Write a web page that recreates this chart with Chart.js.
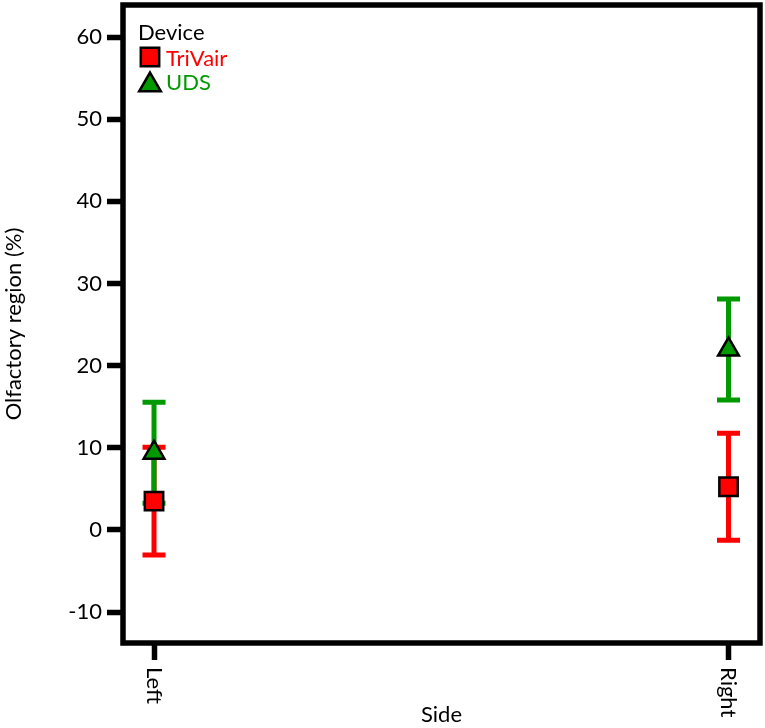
<!DOCTYPE html>
<html>
<head>
<meta charset="utf-8">
<script src="https://cdn.jsdelivr.net/npm/chart.js@4/dist/chart.umd.min.js"></script>
<style>
  html, body { margin: 0; padding: 0; background: #ffffff; }
  #wrap { width: 765px; height: 728px; position: relative; }
</style>
</head>
<body>
<div id="wrap"><canvas id="c"></canvas></div>
<script>
// ---- Data ----
const categories = ['Left', 'Right'];
const seriesNames = ['TriVair', 'UDS'];
const triVairMean = [3.5, 5.25];
const triVairErr = [6.55, 6.5];
const udsMean = [9.4, 21.95];
const udsErr = [6.15, 6.15];
const yTicks = [-10, 0, 10, 20, 30, 40, 50, 60];
const legendTitle = 'Device';
const xTitle = 'Side';
const yTitle = 'Olfactory region (%)';

const RED = '#ff0000';
const GREEN = '#009a00';
const FONT = 'Lato, "Noto Sans", sans-serif';
const FS = 22;

const errData = [triVairErr, udsErr];
const errColors = [RED, GREEN];

const errorBarPlugin = {
  id: 'errorBars',
  beforeDatasetsDraw(chart) {
    const ctx = chart.ctx;
    const xs = chart.scales.x, ys = chart.scales.y;
    ctx.save();
    chart.data.datasets.forEach((ds, di) => {
      ctx.strokeStyle = errColors[di];
      ctx.lineWidth = 5;
      ctx.lineCap = 'butt';
      ds.data.forEach((p, i) => {
        const x = xs.getPixelForValue(p.x);
        const yT = ys.getPixelForValue(p.y + errData[di][i]);
        const yB = ys.getPixelForValue(p.y - errData[di][i]);
        ctx.beginPath();
        ctx.moveTo(x, yT); ctx.lineTo(x, yB);
        ctx.moveTo(x - 11.5, yT); ctx.lineTo(x + 11.5, yT);
        ctx.moveTo(x - 11.5, yB); ctx.lineTo(x + 11.5, yB);
        ctx.stroke();
      });
    });
    ctx.restore();
  }
};

const framePlugin = {
  id: 'frame',
  afterDraw(chart) {
    const ctx = chart.ctx;
    const a = chart.chartArea;
    const xs = chart.scales.x;
    ctx.save();
    // frame
    ctx.strokeStyle = '#000';
    ctx.lineWidth = 5.5;
    ctx.lineJoin = 'miter';
    ctx.strokeRect(a.left, a.top, a.right - a.left, a.bottom - a.top);
    // x tick labels rotated clockwise
    ctx.fillStyle = '#000';
    ctx.font = FS + 'px ' + FONT;
    ctx.textAlign = 'left';
    ctx.textBaseline = 'middle';
    categories.forEach((c, i) => {
      const x = xs.getPixelForValue(i);
      ctx.save();
      ctx.translate(x, a.bottom + 24);
      ctx.rotate(Math.PI / 2);
      ctx.fillText(c, 0, 0);
      ctx.restore();
    });
    // legend
    ctx.textBaseline = 'alphabetic';
    ctx.fillStyle = '#000';
    ctx.fillText(legendTitle, 138, 39.5);
    const styles = ['rect', 'triangle'];
    const radii = [13, 12.5];
    const cys = [57, 85];
    const tys = [65.5, 90];
    seriesNames.forEach((n, i) => {
      ctx.fillStyle = errColors[i];
      ctx.strokeStyle = '#000';
      ctx.lineWidth = 2.5;
      Chart.helpers.drawPoint(ctx, { pointStyle: styles[i], radius: radii[i], rotation: 0, borderWidth: 2.5 }, 150, cys[i]);
      ctx.fillStyle = errColors[i];
      ctx.fillText(n, 166, tys[i]);
    });
    ctx.restore();
  }
};

const datasets = [
  {
    label: seriesNames[0],
    data: categories.map((c, i) => ({ x: i, y: triVairMean[i] })),
    pointStyle: 'rect',
    pointRadius: 13,
    backgroundColor: RED,
    borderColor: '#000',
    pointBorderWidth: 2.5,
    showLine: false
  },
  {
    label: seriesNames[1],
    data: categories.map((c, i) => ({ x: i, y: udsMean[i] })),
    pointStyle: 'triangle',
    pointRadius: 12,
    backgroundColor: GREEN,
    borderColor: '#000',
    pointBorderWidth: 2.5,
    showLine: false
  }
];

new Chart(document.getElementById('c'), {
  type: 'scatter',
  data: { datasets },
  plugins: [errorBarPlugin, framePlugin],
  options: {
    responsive: true,
    maintainAspectRatio: false,
    animation: false,
    layout: { autoPadding: false, padding: { top: 5, right: 5, bottom: 0, left: 0 } },
    plugins: { legend: { display: false }, tooltip: { enabled: false } },
    scales: {
      x: {
        type: 'linear',
        min: -0.054,
        max: 1.0548,
        afterBuildTicks(s) { s.ticks = categories.map((c, i) => ({ value: i })); },
        afterFit(s) { s.height = 85; s.paddingLeft = 0; s.paddingRight = 0; s.paddingTop = 0; s.paddingBottom = 0; },
        ticks: { display: false },
        grid: { display: true, drawOnChartArea: false, drawTicks: true, tickLength: 17, tickWidth: 5.5, tickColor: '#000' },
        border: { display: false },
        title: { display: true, text: xTitle, color: '#000', font: { family: FONT, size: FS }, padding: { top: 0, bottom: 0 } }
      },
      y: {
        type: 'linear',
        min: -13.77,
        max: 63.9,
        afterBuildTicks(s) { s.ticks = yTicks.map(v => ({ value: v })); },
        afterFit(s) { s.width = 123; s.paddingLeft = 0; s.paddingRight = 0; s.paddingTop = 0; s.paddingBottom = 0; },
        ticks: { color: '#000', font: { family: FONT, size: FS }, padding: 5 },
        grid: { display: true, drawOnChartArea: false, drawTicks: true, tickLength: 16, tickWidth: 5.5, tickColor: '#000' },
        border: { display: false },
        title: { display: true, text: yTitle, color: '#000', font: { family: FONT, size: FS }, padding: { top: 1, bottom: 0 } }
      }
    }
  }
});
</script>
</body>
</html>
